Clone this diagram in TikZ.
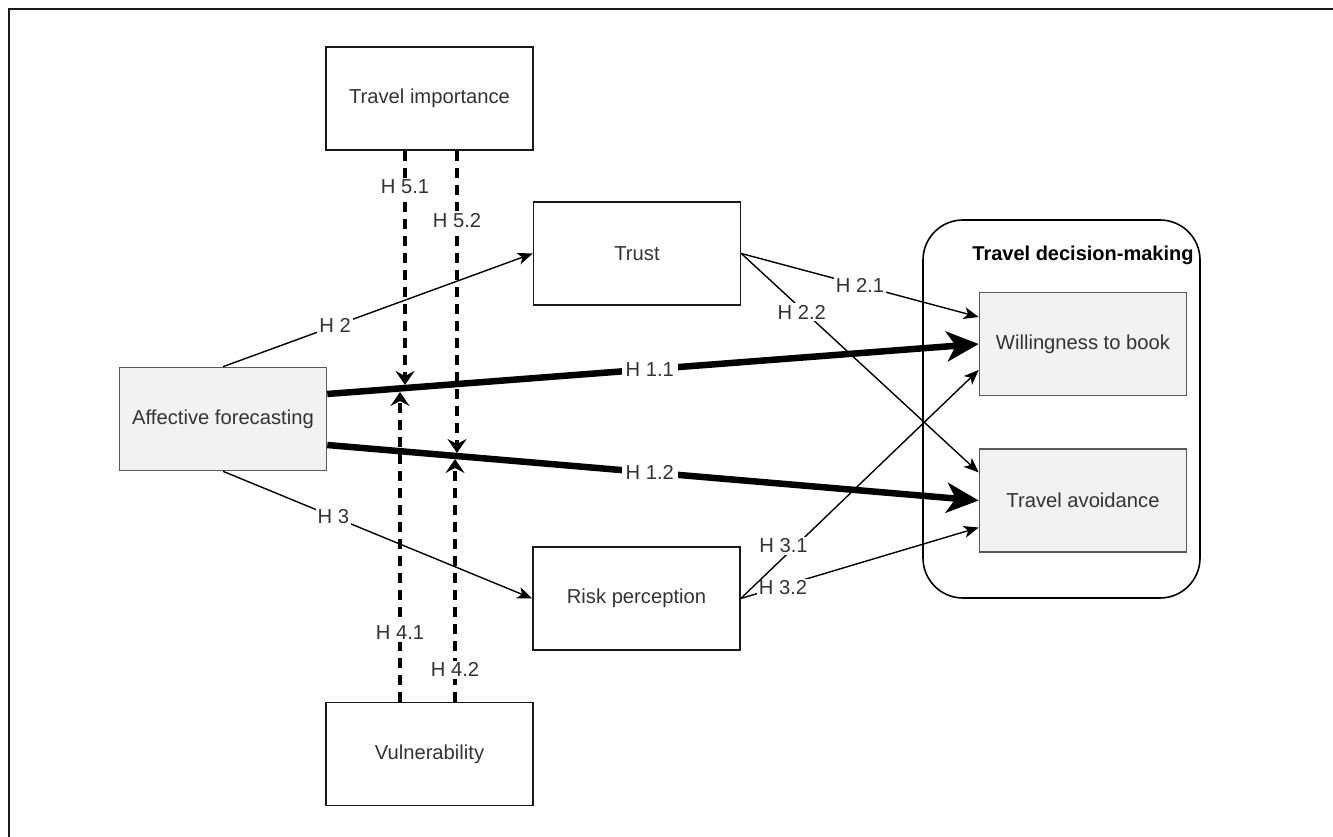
\documentclass[tikz,border=0pt]{standalone}
\usepackage{fontspec}
\setmainfont{Liberation Sans}
\usetikzlibrary{arrows.meta,calc}
\newcommand\dfont{\fontsize{20.2}{23}\selectfont}
\definecolor{txt}{HTML}{333333}
\definecolor{lg}{HTML}{F2F2F2}
\begin{document}
\begin{tikzpicture}[x=1pt,y=-1pt,
  box/.style={draw=black!90, line width=1.6pt, minimum width=207pt, minimum height=103pt, inner sep=0pt, font=\dfont, text=txt},
  gbox/.style={box, draw=black!65, fill=lg},
  lbl/.style={fill=white, inner sep=2pt, font=\dfont, text=txt},
  thin/.style={draw=black, line width=1.4pt, -{Stealth[length=15pt,width=12pt,inset=4pt]}},
  thick/.style={draw=black, line width=6.5pt, -{Stealth[length=32pt,width=30pt,inset=9pt]}},
  dashln/.style={draw=black, line width=3.5pt, dash pattern=on 10pt off 7pt, -{Stealth[length=14pt,width=19pt,inset=5pt]}}
]
\useasboundingbox (0,0) rectangle (1333,837);
% outer frame (top and left edges)
\draw[line width=2pt, black!90] (8.5,837) -- (8.5,9.5) -- (1333,9.5);

% container
\node[draw=black, line width=1.6pt, rounded corners=40pt, minimum width=277pt, minimum height=378pt, inner sep=0pt] (cont) at (1061.5,409) {};
\node[font=\fontsize{20}{23}\selectfont\bfseries, text=black] (title) at (1083,255) {Travel decision-making};

% boxes
\node[box] (ti) at (429.5,98.5) {Travel importance};
\node[box] (tr) at (637,253.5) {Trust};
\node[gbox] (af) at (223,419) {Affective forecasting};
\node[box] (rp) at (636.5,598.5) {Risk perception};
\node[box] (vu) at (429.5,754) {Vulnerability};
\node[gbox] (wb) at (1083,344) {Willingness to book};
\node[gbox] (ta) at (1083,500.5) {Travel avoidance};

% thin arrows
\draw[thin] (af.north) -- node[lbl, pos=0.362] {H 2} (tr.west);
\draw[thin] (af.south) -- node[lbl, pos=0.357] {H 3} (rp.west);
\draw[thin] (tr.east) -- node[lbl, pos=0.5] {H 2.1} ($(wb.west)+(0,-27)$);
\draw[thin] (tr.east) -- node[lbl, pos=0.255, yshift=-3pt] {H 2.2} ($(ta.west)+(0,-28)$);
\draw[thin] (rp.east) -- node[lbl, pos=0.19, xshift=-3pt, yshift=-3pt] {H 3.2} ($(ta.west)+(0,27)$);
\draw[thin] (rp.east) -- node[lbl, pos=0.23, xshift=-12pt] {H 3.1} ($(wb.west)+(0,26)$);

% thick arrows
\draw[thick] ($(af.east)+(0,-25)$) -- node[lbl, pos=0.495, inner sep=4pt] {H 1.1} (wb.west);
\draw[thick] ($(af.east)+(0,26)$) -- node[lbl, pos=0.495, inner sep=4pt] {H 1.2} (ta.west);

% moderator coordinates on the thick arrows
\coordinate (p51) at (405,385);
\coordinate (p41) at (400,392);
\coordinate (p52) at (457,453);
\coordinate (p42) at (455,459);

% dashed moderator arrows
\draw[dashln] (ti.south -| p51) -- node[lbl, pos=0.153] {H 5.1} (p51);
\draw[dashln] (ti.south -| p52) -- node[lbl, pos=0.231] {H 5.2} (p52);
\draw[dashln] (vu.north -| p41) -- node[lbl, pos=0.223] {H 4.1} (p41);
\draw[dashln] (vu.north -| p42) -- node[lbl, pos=0.132] {H 4.2} (p42);
\end{tikzpicture}
\end{document}
